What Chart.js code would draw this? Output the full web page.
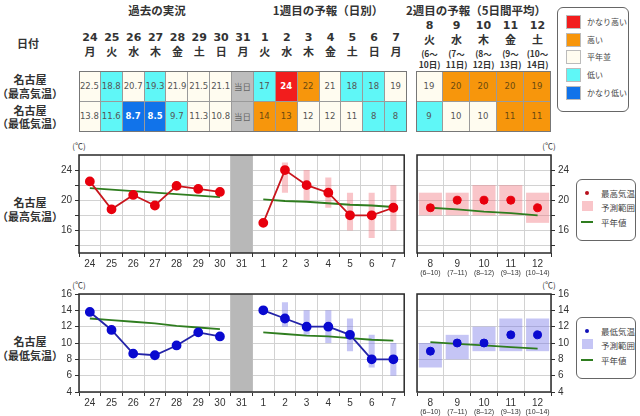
<!DOCTYPE html>
<html>
<head>
<meta charset="utf-8">
<script src="https://cdn.jsdelivr.net/npm/chart.js@4.4.0/dist/chart.umd.min.js"></script>
<style>
  body { margin: 0; background: #fff; width: 640px; height: 416px; overflow: hidden; position: relative;
         font-family: "Noto Sans CJK JP", sans-serif; color: #333; }
  .t { position: absolute; white-space: nowrap; transform: translate(-50%, -50%); line-height: 1; }
  .cell { position: absolute; box-sizing: border-box; border-right: 1px solid #9a9a9a; border-bottom: 1px solid #9a9a9a;
          display: flex; align-items: center; justify-content: center; font: 8.5px "DejaVu Sans", sans-serif; color: #555; }
  .blk { position: absolute; box-sizing: border-box; border: 1px solid #777; }
  .lg { position: absolute; box-sizing: border-box; border: 1px solid #666; border-radius: 6px; background: #fff; }
  canvas { position: absolute; }
</style>
</head>
<body>
<script>
// ---- data ----
const pastDays = ['24', '25', '26', '27', '28', '29', '30'];
const pastWeekdays = ['月', '火', '水', '木', '金', '土', '日'];
const todayDay = '31';
const todayWeekday = '月';
const week1Days = ['1', '2', '3', '4', '5', '6', '7'];
const week1Weekdays = ['火', '水', '木', '金', '土', '日', '月'];
const week2Days = ['8', '9', '10', '11', '12'];
const week2Weekdays = ['火', '水', '木', '金', '土'];
const week2From = ['(6～', '(7～', '(8～', '(9～', '(10～'];
const week2To = ['10日)', '11日)', '12日)', '13日)', '14日)'];
const week2Spans = ['(6–10)', '(7–11)', '(8–12)', '(9–13)', '(10–14)'];

const pastHigh = [22.5, 18.8, 20.7, 19.3, 21.9, 21.5, 21.1];
const week1High = [17, 24, 22, 21, 18, 18, 19];
const week1HighRange = [null, [21, 25], [20, 24], [19, 23], [16, 21], [15, 21], [16, 22]];
const week2High = [19, 20, 20, 20, 19];
const week2HighRange = [[18, 21], [18, 21], [18, 22], [18, 22], [17, 21]];
const normalHighPast = [21.6, 21.4, 21.2, 21.0, 20.8, 20.6, 20.4];
const normalHighWeek1 = [20.1, 19.9, 19.8, 19.6, 19.4, 19.3, 19.1];
const normalHighWeek2 = [19.0, 18.8, 18.5, 18.3, 18.0];

const pastLow = [13.8, 11.6, 8.7, 8.5, 9.7, 11.3, 10.8];
const week1Low = [14, 13, 12, 12, 11, 8, 8];
const week1LowRange = [null, [12, 15], [11, 14], [10, 14], [9, 13], [7, 11], [6, 10]];
const week2Low = [9, 10, 10, 11, 11];
const week2LowRange = [[7, 10], [8, 11], [9, 12], [9, 13], [9, 13]];
const normalLowPast = [13.0, 12.8, 12.6, 12.4, 12.1, 11.9, 11.7];
const normalLowWeek1 = [11.3, 11.1, 10.9, 10.8, 10.6, 10.4, 10.3];
const normalLowWeek2 = [10.1, 9.9, 9.7, 9.5, 9.3];

// table classes: vh=かなり高い h=高い n=平年並 l=低い vl=かなり低い
const pastHighClass = ['n', 'l', 'n', 'l', 'n', 'n', 'n'];
const week1HighClass = ['l', 'vh', 'h', 'n', 'l', 'l', 'n'];
const week2HighClass = ['n', 'h', 'h', 'h', 'h'];
const pastLowClass = ['n', 'l', 'vl', 'vl', 'l', 'n', 'n'];
const week1LowClass = ['h', 'h', 'n', 'n', 'n', 'l', 'l'];
const week2LowClass = ['l', 'n', 'n', 'h', 'h'];

const highTicks = [14, 16, 18, 20, 22, 24];
const highLabels = [16, 20, 24];
const lowTicks = [4, 6, 8, 10, 12, 14, 16];

const classColors = { vh: '#f21d1d', h: '#f7960c', n: '#fffcf0', l: '#5ff7f7', vl: '#1173ea' };
const classNames = [['vh', 'かなり高い'], ['h', '高い'], ['n', '平年並'], ['l', '低い'], ['vl', 'かなり低い']];

// ---- html helpers ----
function txt(x, y, s, style) {
  const d = document.createElement('div');
  d.className = 't';
  d.textContent = s;
  d.style.left = x + 'px';
  d.style.top = y + 'px';
  if (style) d.style.cssText += style;
  document.body.appendChild(d);
  return d;
}
function box(cls, x, y, w, h, style) {
  const d = document.createElement('div');
  d.className = cls;
  d.style.left = x + 'px'; d.style.top = y + 'px';
  d.style.width = w + 'px'; d.style.height = h + 'px';
  if (style) d.style.cssText += style;
  document.body.appendChild(d);
  return d;
}

// ---- table ----
const b1x = 79, b1w = 328, b1n = 15, cw1 = b1w / b1n;
const b2x = 416, b2w = 135, cw2 = b2w / 5;
const rowY = [71, 101.5], rowH = 30.5;

txt(157, 11, '過去の実況', 'font-size:11.5px;font-weight:bold;');
txt(328, 11, '1週目の予報（日別）', 'font-size:11.5px;font-weight:bold;');
txt(476, 11, '2週目の予報（5日間平均）', 'font-size:11.5px;font-weight:bold;');
txt(28, 43, '日付', 'font-size:11px;font-weight:bold;');
txt(30, 79, '名古屋', 'font-size:11px;font-weight:bold;');
txt(30, 93, '（最高気温）', 'font-size:11px;font-weight:bold;');
txt(30, 110, '名古屋', 'font-size:11px;font-weight:bold;');
txt(30, 123, '（最低気温）', 'font-size:11px;font-weight:bold;');

const days1 = [...pastDays, todayDay, ...week1Days];
const wdays1 = [...pastWeekdays, todayWeekday, ...week1Weekdays];
days1.forEach((d, i) => {
  const cx = b1x + cw1 * (i + 0.5);
  txt(cx, 37, d, 'font:bold 11px "DejaVu Sans",sans-serif;');
  txt(cx, 51, wdays1[i], 'font-size:11px;font-weight:bold;');
});
week2Days.forEach((d, i) => {
  const cx = b2x + cw2 * (i + 0.5);
  txt(cx, 25, d, 'font:bold 11px "DejaVu Sans",sans-serif;');
  txt(cx, 39, week2Weekdays[i], 'font-size:11px;font-weight:bold;');
  txt(cx, 53, week2From[i], 'font-size:8.5px;font-weight:bold;');
  txt(cx, 64, week2To[i], 'font-size:8.5px;font-weight:bold;');
});

function tableRow(r, pastV, pastC, w1V, w1C, w2V, w2C) {
  const y = rowY[r];
  const vals = [...pastV.map(v => v.toFixed(1)), '当日', ...w1V.map(String)];
  const cls = [...pastC, 'today', ...w1C];
  vals.forEach((v, i) => {
    const c = box('cell', b1x + cw1 * i, y, cw1, rowH);
    const k = cls[i];
    c.style.background = k === 'today' ? '#bdbdbd' : classColors[k];
    c.textContent = v;
    if (k === 'today') { c.style.fontFamily = '"Noto Sans CJK JP"'; c.style.color = '#666'; }
    if (k === 'vh' || k === 'vl') { c.style.color = '#fff'; c.style.fontWeight = 'bold'; }
    if (k === 'h') c.style.color = '#6a4a10';
  });
  w2V.forEach((v, i) => {
    const c = box('cell', b2x + cw2 * i, y, cw2, rowH);
    const k = w2C[i];
    c.style.background = classColors[k];
    c.textContent = String(v);
    if (k === 'h') c.style.color = '#6a4a10';
  });
}
tableRow(0, pastHigh, pastHighClass, week1High, week1HighClass, week2High, week2HighClass);
tableRow(1, pastLow, pastLowClass, week1Low, week1LowClass, week2Low, week2LowClass);
box('blk', b1x, rowY[0], b1w, rowH * 2);
box('blk', b2x, rowY[0], b2w, rowH * 2);

// table legend
box('lg', 557, 7, 72, 105);
classNames.forEach(([k, name], i) => {
  const y = 15 + i * 17.7;
  box('', 566, y, 15, 14, 'position:absolute;box-sizing:border-box;border:1px solid #bbb;background:' + classColors[k]);
  txt(587, y + 7, name, 'font-size:8px;color:#444;transform:translate(0,-50%);');
});

// chart row titles
txt(30, 202, '名古屋', 'font-size:11px;font-weight:bold;');
txt(30, 216, '（最高気温）', 'font-size:11px;font-weight:bold;');
txt(30, 341, '名古屋', 'font-size:11px;font-weight:bold;');
txt(30, 355, '（最低気温）', 'font-size:11px;font-weight:bold;');
['146', '285'].forEach(y => {
  txt(79, +y, '(℃)', 'font-size:8px;');
  txt(549, +y, '(℃)', 'font-size:8px;');
});

// chart legends
function chartLegend(top, dotColor, rangeColor, label) {
  box('lg', 576, top, 60, 62);
  box('', 585, top + 12, 4, 4, 'position:absolute;border-radius:50%;background:' + dotColor);
  box('', 582, top + 22, 11, 10, 'position:absolute;background:' + rangeColor);
  box('', 581, top + 42, 12, 2, 'position:absolute;background:#2f7d1f');
  txt(601, top + 14, label, 'font-size:8.5px;color:#444;transform:translate(0,-50%);');
  txt(601, top + 28, '予測範囲', 'font-size:8.5px;color:#444;transform:translate(0,-50%);');
  txt(601, top + 43, '平年値', 'font-size:8.5px;color:#444;transform:translate(0,-50%);');
}
chartLegend(179, '#b8101c', 'rgba(240,110,120,0.4)', '最高気温');
chartLegend(317, '#1010b8', 'rgba(110,110,230,0.4)', '最低気温');

// ---- charts ----
const framePlugin = {
  id: 'frame',
  afterDatasetsDraw(chart) {
    const a = chart.chartArea, ctx = chart.ctx;
    ctx.save();
    ctx.strokeStyle = '#2a2a2a';
    ctx.lineWidth = 1.5;
    ctx.strokeRect(a.left, a.top, a.right - a.left, a.bottom - a.top);
    ctx.restore();
  }
};
const spanPlugin = {
  id: 'spans',
  afterDraw(chart) {
    const x = chart.scales.x, ctx = chart.ctx;
    ctx.save();
    ctx.font = '7px "Liberation Sans", Arial, sans-serif';
    ctx.fillStyle = '#333';
    ctx.textAlign = 'center';
    ctx.textBaseline = 'middle';
    week2Spans.forEach((s, i) => ctx.fillText(s, x.getPixelForTick(i), chart.chartArea.bottom + 20));
    ctx.restore();
  }
};

function makeCanvas(left, top, w, h) {
  const c = document.createElement('canvas');
  c.width = w; c.height = h;
  c.style.left = left + 'px'; c.style.top = top + 'px';
  c.style.width = w + 'px'; c.style.height = h + 'px';
  document.body.appendChild(c);
  return c;
}

const tickFont = { family: '"Liberation Sans", Arial, sans-serif', size: 10 };
function xScale() {
  return {
    grid: { color: '#d2d2d2', tickColor: '#333', tickLength: 4, offset: true },
    border: { display: false },
    ticks: { font: tickFont, color: '#333', padding: 1, autoSkip: false, maxRotation: 0 },
    afterFit(s) { s.height = 30; }
  };
}
function yScale(min, max, ticks, labels, pos, width) {
  return {
    position: pos, min: min, max: max,
    grid: { color: '#d2d2d2', tickColor: '#333', tickLength: 4 },
    border: { display: false },
    afterBuildTicks(s) { s.ticks = ticks.map(v => ({ value: v })); },
    ticks: { font: tickFont, color: '#333', padding: 3, callback: v => labels.includes(v) ? v : '' },
    afterFit(s) { s.width = width; }
  };
}
const baseOpts = {
  responsive: false, animation: false, devicePixelRatio: 1,
  plugins: { legend: { display: false }, tooltip: { enabled: false } }
};

function dailyChart(top, past, week1, range, nPast, nWeek1, yMin, yMax, ticks, labels, lineColor, dotColor, rangeColor) {
  const cats = [...pastDays, todayDay, ...week1Days];
  new Chart(makeCanvas(30, top, 380, 143), {
    type: 'bar',
    data: {
      labels: cats,
      datasets: [
        { type: 'line', data: [...past, null, ...week1], borderColor: lineColor, borderWidth: 1.8,
          pointRadius: 4, pointBackgroundColor: dotColor, pointBorderColor: dotColor, spanGaps: false, order: 0 },
        { type: 'line', data: [...nPast, null, ...nWeek1], borderColor: '#2f7d1f', borderWidth: 1.8,
          pointRadius: 0, spanGaps: false, order: 1 },
        { type: 'bar', data: [...Array(pastDays.length + 1).fill(null), ...range], backgroundColor: rangeColor,
          barPercentage: 0.28, categoryPercentage: 1, grouped: false, order: 2 },
        { type: 'bar', data: cats.map(c => c === todayDay ? [yMin, yMax] : null), backgroundColor: '#b8b8b8',
          barPercentage: 1, categoryPercentage: 1, grouped: false, order: 3 }
      ]
    },
    options: {
      ...baseOpts,
      layout: { padding: { top: 15, right: 3, left: 0, bottom: 0 } },
      scales: { x: xScale(), y: yScale(yMin, yMax, ticks, labels, 'left', 49) }
    },
    plugins: [framePlugin]
  });
}

function weeklyChart(top, vals, range, normal, yMin, yMax, ticks, labels, dotColor, rangeColor) {
  new Chart(makeCanvas(412, top, 169, 143), {
    type: 'bar',
    data: {
      labels: week2Days,
      datasets: [
        { type: 'line', data: vals, showLine: false, pointRadius: 4,
          pointBackgroundColor: dotColor, pointBorderColor: dotColor, order: 0 },
        { type: 'line', data: normal, borderColor: '#2f7d1f', borderWidth: 1.8, pointRadius: 0, order: 1 },
        { type: 'bar', data: range, backgroundColor: rangeColor, barPercentage: 0.86, categoryPercentage: 1,
          grouped: false, order: 2 }
      ]
    },
    options: {
      ...baseOpts,
      layout: { padding: { top: 15, right: 0, left: 4, bottom: 0 } },
      scales: { x: xScale(), y: yScale(yMin, yMax, ticks, labels, 'right', 30) }
    },
    plugins: [framePlugin, spanPlugin]
  });
}

dailyChart(140, pastHigh, week1High, week1HighRange, normalHighPast, normalHighWeek1, 13, 26, highTicks, highLabels,
  '#c8161d', '#e8000d', 'rgba(240,110,120,0.4)');
weeklyChart(140, week2High, week2HighRange, normalHighWeek2, 13, 26, highTicks, highLabels,
  '#e8000d', 'rgba(240,110,120,0.4)');
dailyChart(279, pastLow, week1Low, week1LowRange, normalLowPast, normalLowWeek1, 4, 16, lowTicks, lowTicks,
  '#2424a8', '#0a0ad0', 'rgba(110,110,230,0.4)');
weeklyChart(279, week2Low, week2LowRange, normalLowWeek2, 4, 16, lowTicks, lowTicks,
  '#0a0ad0', 'rgba(110,110,230,0.4)');
</script>
</body>
</html>
